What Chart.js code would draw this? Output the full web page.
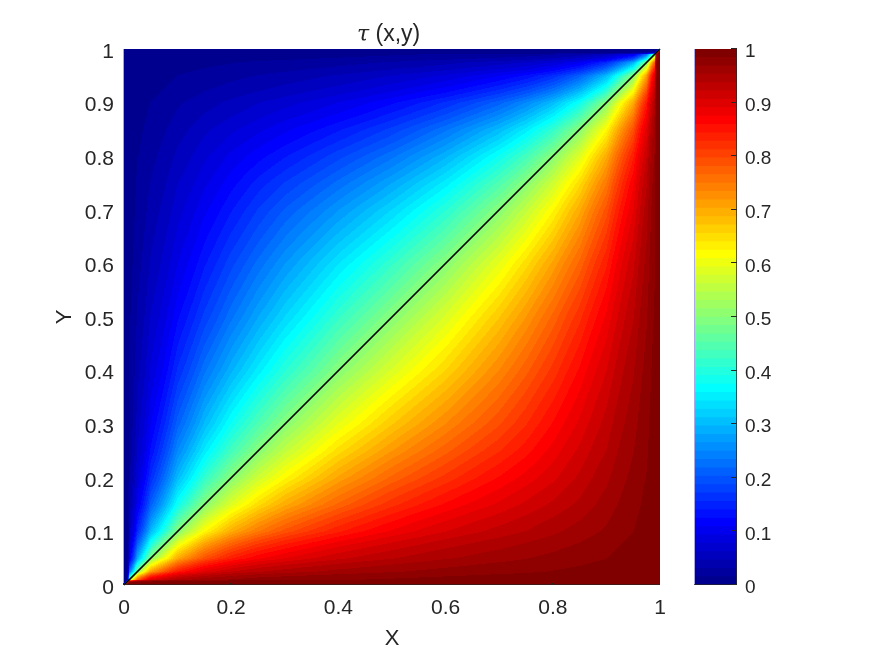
<!DOCTYPE html>
<html>
<head>
<meta charset="utf-8">
<style>
html,body{margin:0;padding:0;background:#fff;}
canvas{position:absolute;left:0;top:0;}
</style>
<script src="https://cdn.jsdelivr.net/npm/chart.js@4"></script>
</head>
<body>
<canvas id="map" width="875" height="656"></canvas>
<canvas id="bar" width="875" height="656"></canvas>
<script>
const titleSymbol = 'τ';
const titleRest = '(x,y)';
const xLabel = 'X';
const yLabel = 'Y';
const xTicks = [0, 0.2, 0.4, 0.6, 0.8, 1];
const yTicks = [0, 0.1, 0.2, 0.3, 0.4, 0.5, 0.6, 0.7, 0.8, 0.9, 1];
const barTicks = [0, 0.1, 0.2, 0.3, 0.4, 0.5, 0.6, 0.7, 0.8, 0.9, 1];
const diagX = [0, 1];
const diagY = [0, 1];
const gridPos = [0, .01, .025, .05, .1, .15, .2, .25, .3, .4, .5, .6, .7, .75, .8, .85, .9, .95, .975, .99, 1];
// one row per gridPos value of y (bottom row first), one column per gridPos value of x
const tauRows = [
[.5,1,1,1,1,1,1,1,1,1,1,1,1,1,1,1,1,1,1,1,1],
[0,.5,.774,.896,.944,.961,.970,.976,.979,.983,.986,.989,.991,.992,.993,.994,.996,.998,.999,.999,1],
[0,.226,.5,.712,.844,.895,.921,.936,.945,.958,.967,.974,.980,.982,.985,.988,.991,.995,.997,.999,1],
[0,.104,.288,.5,.698,.789,.840,.871,.890,.918,.936,.951,.962,.968,.973,.978,.984,.991,.995,.998,1],
[0,.056,.156,.302,.5,.621,.698,.749,.788,.841,.878,.906,.928,.938,.949,.960,.971,.984,.991,.996,1],
[0,.039,.105,.211,.379,.5,.586,.650,.699,.770,.823,.862,.894,.910,.925,.941,.960,.978,.988,.994,1],
[0,.030,.079,.160,.302,.414,.5,.568,.622,.707,.770,.818,.861,.881,.902,.925,.949,.973,.985,.993,1],
[0,.024,.064,.129,.251,.350,.432,.5,.557,.649,.719,.776,.827,.853,.881,.910,.938,.968,.982,.992,1],
[0,.021,.055,.110,.212,.301,.378,.443,.5,.595,.671,.735,.795,.827,.861,.894,.928,.962,.980,.991,1],
[0,.017,.042,.082,.159,.230,.293,.351,.405,.5,.582,.657,.735,.776,.818,.862,.906,.951,.974,.989,1],
[0,.014,.033,.064,.122,.177,.230,.281,.329,.418,.5,.582,.671,.719,.770,.823,.878,.936,.967,.986,1],
[0,.011,.026,.049,.094,.138,.182,.224,.265,.343,.418,.5,.595,.649,.707,.770,.841,.918,.958,.983,1],
[0,.009,.020,.038,.072,.106,.139,.173,.205,.265,.329,.405,.5,.557,.622,.699,.788,.890,.945,.979,1],
[0,.008,.018,.032,.062,.090,.119,.147,.173,.224,.281,.351,.443,.5,.568,.650,.749,.871,.936,.976,1],
[0,.007,.015,.027,.051,.075,.098,.119,.139,.182,.230,.293,.378,.432,.5,.586,.698,.840,.921,.970,1],
[0,.006,.012,.022,.040,.059,.075,.090,.106,.138,.177,.230,.301,.350,.414,.5,.621,.789,.895,.961,1],
[0,.004,.009,.016,.029,.040,.051,.062,.072,.094,.122,.159,.212,.251,.302,.379,.5,.698,.844,.944,1],
[0,.002,.005,.009,.016,.022,.027,.032,.038,.049,.064,.082,.110,.129,.160,.211,.302,.5,.712,.896,1],
[0,.001,.003,.005,.009,.012,.015,.018,.020,.026,.033,.042,.055,.064,.079,.105,.156,.288,.5,.774,1],
[0,.001,.001,.002,.004,.006,.007,.008,.009,.011,.014,.017,.021,.024,.030,.039,.056,.104,.226,.5,1],
[0,0,0,0,0,0,0,0,0,0,0,0,0,0,0,0,0,0,0,0,.5]
];
const colorLevels = 64;

const INK = '#262626';
const FONT = '"Liberation Sans", Arial, sans-serif';

function clamp01(v){ return Math.max(0, Math.min(1, v)); }
function jet(k){ // k: 0-based level
  const v = (k + 1) / colorLevels;
  return [
    Math.round(255 * clamp01(Math.min(4*v - 1.5, -4*v + 4.5))),
    Math.round(255 * clamp01(Math.min(4*v - 0.5, -4*v + 3.5))),
    Math.round(255 * clamp01(Math.min(4*v + 0.5, -4*v + 2.5)))
  ];
}
const palette = [];
for (let k = 0; k < colorLevels; k++) palette.push(jet(k));
const cssColor = c => `rgb(${c[0]},${c[1]},${c[2]})`;

function locate(v){
  let i = 0;
  while (i < gridPos.length - 2 && v > gridPos[i + 1]) i++;
  return [i, clamp01((v - gridPos[i]) / (gridPos[i + 1] - gridPos[i]))];
}
const logit = t => { const c = Math.max(.0004, Math.min(.9996, t)); return Math.log(c / (1 - c)); };
const tauLogit = tauRows.map(row => row.map(logit));

// shading of the table over the plot area, placed through the chart's own scales
const shadingPlugin = {
  id: 'shading',
  beforeDatasetsDraw(chart){
    const {ctx, chartArea: a, scales} = chart;
    const w = Math.round(a.right - a.left), h = Math.round(a.bottom - a.top);
    const img = ctx.createImageData(w, h);
    for (let py = 0; py < h; py++) {
      const yv = clamp01(scales.y.getValueForPixel(a.top + py + 0.5));
      const [j, fy] = locate(yv);
      for (let px = 0; px < w; px++) {
        const xv = clamp01(scales.x.getValueForPixel(a.left + px + 0.5));
        const [i, fx] = locate(xv);
        const l = (tauLogit[j][i]*(1-fx) + tauLogit[j][i+1]*fx)*(1-fy) +
                  (tauLogit[j+1][i]*(1-fx) + tauLogit[j+1][i+1]*fx)*fy;
        const t = 1 / (1 + Math.exp(-l));
        const c = palette[Math.min(colorLevels - 1, Math.floor(t * colorLevels))];
        const o = (py * w + px) * 4;
        img.data[o] = c[0]; img.data[o+1] = c[1]; img.data[o+2] = c[2]; img.data[o+3] = 255;
      }
    }
    ctx.putImageData(img, Math.round(a.left), Math.round(a.top));
  }
};

// plot edges and short ticks
function framePlugin(cfg){
  return {
    id: 'frame',
    afterDatasetsDraw(chart){
      const {ctx, chartArea: a, scales} = chart;
      ctx.save();
      ctx.lineWidth = 1;
      const seg = (color, x1, y1, x2, y2) => {
        ctx.strokeStyle = color;
        ctx.beginPath(); ctx.moveTo(x1, y1); ctx.lineTo(x2, y2); ctx.stroke();
      };
      seg(cfg.leftColor, a.left - 0.5, a.top, a.left - 0.5, a.bottom);
      seg(cfg.edgeColor, a.right - 0.5, a.top, a.right - 0.5, a.bottom);
      seg(cfg.edgeColor, a.left - 1, a.bottom - 0.5, a.right, a.bottom - 0.5);
      if (cfg.bottomTicks) cfg.bottomTicks.forEach(v => {
        const p = Math.round(scales.x.getPixelForValue(v)) - 0.5;
        seg(INK, p, a.bottom, p, a.bottom - 2);
      });
      if (cfg.rightTicks) cfg.rightTicks.forEach(v => {
        const p = Math.round(scales.y.getPixelForValue(v)) - 0.5;
        seg(INK, a.right, p, a.right - 6, p);
      });
      ctx.restore();
    }
  };
}

// moves the tick labels of the value axis down a little
function labelShiftPlugin(dy){
  return {
    id: 'labelShift',
    beforeDraw(chart){
      chart.scales.y.getLabelItems().forEach(item => {
        if (!item._shifted) {
          item.options.translation = [item.options.translation[0], item.options.translation[1] + dy];
          item._shifted = true;
        }
      });
    }
  };
}

const titlePlugin = {
  id: 'twoFontTitle',
  afterDraw(chart){
    const {ctx, chartArea: a} = chart;
    const cx = (a.left + a.right) / 2;
    ctx.save();
    ctx.fillStyle = INK;
    ctx.textBaseline = 'alphabetic';
    ctx.textAlign = 'left';
    ctx.font = 'italic 22px "DejaVu Serif", "Liberation Serif", serif';
    ctx.fillText(titleSymbol, cx - 35, 41);
    ctx.font = '23px ' + FONT;
    ctx.fillText(titleRest, cx - 16.5, 41);
    ctx.restore();
  }
};

new Chart(document.getElementById('map'), {
  type: 'scatter',
  data: {
    datasets: [{
      label: 'diagonal',
      data: diagX.map((x, i) => ({x, y: diagY[i]})),
      showLine: true,
      borderColor: '#000',
      borderWidth: 1.7,
      pointRadius: 0,
      clip: false
    }]
  },
  options: {
    responsive: false,
    animation: false,
    events: [],
    layout: {padding: {left: 0, right: 215, top: 49, bottom: 0}},
    plugins: {
      legend: {display: false},
      tooltip: {enabled: false},
      title: {display: false}
    },
    scales: {
      x: {
        type: 'linear', min: 0, max: 1,
        afterFit(s){ s.height = 71; },
        afterBuildTicks(s){ s.ticks = xTicks.map(value => ({value})); },
        grid: {display: false, drawTicks: false},
        border: {display: false},
        ticks: {color: INK, font: {family: FONT, size: 21}, padding: 11, maxRotation: 0,
                callback: v => String(v)},
        title: {display: true, text: xLabel, color: INK,
                font: {family: FONT, size: 22, lineHeight: 1.2}, padding: {top: 0, bottom: 3.8}}
      },
      y: {
        type: 'linear', min: 0, max: 1,
        afterFit(s){ s.width = 124; },
        afterBuildTicks(s){ s.ticks = yTicks.map(value => ({value})); },
        grid: {display: false, drawTicks: false},
        border: {display: false},
        ticks: {color: INK, font: {family: FONT, size: 21}, padding: 10,
                callback: v => String(v)},
        title: {display: true, text: yLabel, color: INK,
                font: {family: FONT, size: 22, lineHeight: 1.2}, padding: {top: 51.8, bottom: 0}}
      }
    }
  },
  plugins: [
    shadingPlugin,
    framePlugin({leftColor: '#a5a9cf', edgeColor: 'rgba(38,38,38,.65)', bottomTicks: xTicks}),
    labelShiftPlugin(3),
    titlePlugin
  ]
});

new Chart(document.getElementById('bar'), {
  type: 'bar',
  data: {
    labels: ['τ'],
    // Chart.js paints the first dataset last: each band rises from 0 and the lower bands
    // paint over it, so no seams show between bands
    datasets: palette.map((c, k) => ({
      label: String(k),
      data: [[0, (k + 1) / colorLevels]],
      backgroundColor: cssColor(c),
      borderWidth: 0,
      grouped: false,
      barPercentage: 1,
      categoryPercentage: 1
    }))
  },
  options: {
    responsive: false,
    animation: false,
    events: [],
    layout: {padding: {left: 695, right: 0, top: 49, bottom: 0}},
    plugins: {legend: {display: false}, tooltip: {enabled: false}, title: {display: false}},
    scales: {
      x: {
        display: true,
        afterFit(s){ s.height = 71; },
        grid: {display: false, drawTicks: false},
        border: {display: false},
        ticks: {display: false}
      },
      y: {
        type: 'linear', position: 'right', min: 0, max: 1,
        afterFit(s){ s.width = 138; },
        afterBuildTicks(s){ s.ticks = barTicks.map(value => ({value})); },
        grid: {display: false, drawTicks: false},
        border: {display: false},
        ticks: {color: INK, font: {family: FONT, size: 19}, padding: 8, callback: v => String(v)}
      }
    }
  },
  plugins: [
    framePlugin({leftColor: '#aaaae6', edgeColor: 'rgba(38,38,38,.75)', rightTicks: barTicks}),
    labelShiftPlugin(3)
  ]
});
</script>
</body>
</html>
